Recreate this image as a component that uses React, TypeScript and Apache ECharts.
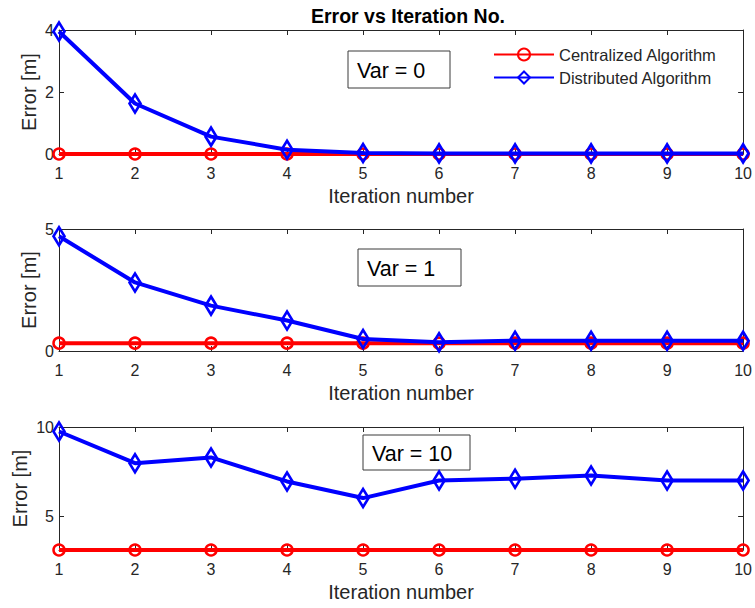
import React, { useEffect, useRef } from 'react';
import * as echarts from 'echarts';

const iterations = [1, 2, 3, 4, 5, 6, 7, 8, 9, 10];
const centralizedVar0 = [0, 0, 0, 0, 0, 0, 0, 0, 0, 0];
const distributedVar0 = [3.95, 1.63, 0.56, 0.14, 0.03, 0.02, 0.02, 0.02, 0.02, 0.02];
const centralizedVar1 = [0.32, 0.32, 0.32, 0.32, 0.32, 0.32, 0.32, 0.32, 0.32, 0.32];
const distributedVar1 = [4.7, 2.81, 1.86, 1.25, 0.49, 0.36, 0.42, 0.42, 0.42, 0.42];
const centralizedVar10 = [3.13, 3.13, 3.13, 3.13, 3.13, 3.13, 3.13, 3.13, 3.13, 3.13];
const distributedVar10 = [9.75, 7.98, 8.3, 6.96, 6.03, 7.01, 7.11, 7.29, 7.01, 7.01];

const panelLabels = ['Var = 0', 'Var = 1', 'Var = 10'];
const yTickValues = [[0, 2, 4], [0, 5], [5, 10]];
const xTickValues = [1, 2, 3, 4, 5, 6, 7, 8, 9, 10];
const seriesNames = ['Centralized Algorithm', 'Distributed Algorithm'];
const titleText = 'Error vs Iteration No.';
const xAxisName = 'Iteration number';
const yAxisName = 'Error [m]';

const centralizedSets = [centralizedVar0, centralizedVar1, centralizedVar10];
const distributedSets = [distributedVar0, distributedVar1, distributedVar10];

const FONT = '"Liberation Sans", Arial, Helvetica, sans-serif';
const AXIS_COLOR = '#262626';

export default function App() {
  const ref = useRef<HTMLDivElement>(null);

  useEffect(() => {
    if (!ref.current) return;
    const chart = echarts.init(ref.current, undefined, { renderer: 'svg' });

    const gridTops = [30, 229, 427];
    const gridHeights = [124, 122, 123];
    const yNameGaps = [20, 20, 29];
    const yRanges = [
      [0, 4],
      [0, 5],
      [3.13, 10],
    ];

    const grids = gridTops.map((top, i) => ({
      left: 59,
      top,
      width: 685,
      height: gridHeights[i],
      containLabel: false,
    }));

    const xAxes: any[] = [];
    const yAxes: any[] = [];
    for (let i = 0; i < 3; i++) {
      xAxes.push({
        type: 'value',
        gridIndex: i,
        min: 1,
        max: 10,
        interval: 1,
        position: 'bottom',
        name: xAxisName,
        nameLocation: 'middle',
        nameGap: 32,
        nameMoveOverlap: false,
        nameTextStyle: { fontSize: 20, color: AXIS_COLOR, fontFamily: FONT },
        axisLine: { show: true, onZero: false, lineStyle: { color: AXIS_COLOR, width: 1 } },
        axisTick: { show: true, inside: true, length: 5, lineStyle: { color: AXIS_COLOR } },
        axisLabel: { fontSize: 16, color: AXIS_COLOR, margin: 11, fontFamily: FONT, customValues: xTickValues },
        splitLine: { show: false },
      });
    }
    for (let i = 0; i < 3; i++) {
      xAxes.push({
        type: 'value',
        gridIndex: i,
        min: 1,
        max: 10,
        interval: 1,
        position: 'top',
        axisLine: { show: true, onZero: false, lineStyle: { color: AXIS_COLOR, width: 1 } },
        axisTick: { show: true, inside: true, length: 5, lineStyle: { color: AXIS_COLOR } },
        axisLabel: { show: false },
        splitLine: { show: false },
      });
    }
    for (let i = 0; i < 3; i++) {
      yAxes.push({
        type: 'value',
        gridIndex: i,
        min: yRanges[i][0],
        max: yRanges[i][1],
        position: 'left',
        name: yAxisName,
        nameLocation: 'middle',
        nameGap: yNameGaps[i],
        nameMoveOverlap: false,
        nameTextStyle: { fontSize: 20, color: AXIS_COLOR, fontFamily: FONT },
        axisLine: { show: true, onZero: false, lineStyle: { color: AXIS_COLOR, width: 1 } },
        axisTick: { show: true, inside: true, length: 5, lineStyle: { color: AXIS_COLOR }, customValues: yTickValues[i] },
        axisLabel: { fontSize: 16, color: AXIS_COLOR, margin: 5, fontFamily: FONT, customValues: yTickValues[i] },
        splitLine: { show: false },
      });
    }
    for (let i = 0; i < 3; i++) {
      yAxes.push({
        type: 'value',
        gridIndex: i,
        min: yRanges[i][0],
        max: yRanges[i][1],
        position: 'right',
        axisLine: { show: true, onZero: false, lineStyle: { color: AXIS_COLOR, width: 1 } },
        axisTick: { show: true, inside: true, length: 5, lineStyle: { color: AXIS_COLOR }, customValues: yTickValues[i] },
        axisLabel: { show: false, customValues: yTickValues[i] },
        splitLine: { show: false },
      });
    }

    const series: any[] = [];
    for (let i = 0; i < 3; i++) {
      series.push({
        name: seriesNames[0],
        type: 'line',
        xAxisIndex: i,
        yAxisIndex: i,
        data: iterations.map((x, k) => [x, centralizedSets[i][k]]),
        symbol: 'circle',
        symbolSize: 11,
        lineStyle: { color: '#ff0000', width: 4 },
        itemStyle: { color: 'transparent', borderColor: '#ff0000', borderWidth: 2.5 },
        z: 2,
      });
      series.push({
        name: seriesNames[1],
        type: 'line',
        xAxisIndex: i,
        yAxisIndex: i,
        data: iterations.map((x, k) => [x, distributedSets[i][k]]),
        symbol: 'diamond',
        symbolSize: [11, 18],
        lineStyle: { color: '#0000ff', width: 4 },
        itemStyle: { color: 'transparent', borderColor: '#0000ff', borderWidth: 2.8 },
        z: 3,
      });
    }

    const boxes = [
      { x: 348, y: 51, w: 102, h: 37 },
      { x: 358, y: 249, w: 103, h: 37 },
      { x: 363, y: 435, w: 107, h: 35 },
    ];

    chart.setOption({
      animation: false,
      backgroundColor: '#ffffff',
      title: {
        text: titleText,
        left: 403,
        top: 1,
        textAlign: 'center',
        textStyle: { fontSize: 19.5, fontWeight: 'bold', color: '#000', fontFamily: FONT },
      },
      legend: {
        data: seriesNames,
        orient: 'vertical',
        left: 493,
        top: 46,
        padding: 0,
        itemWidth: 60,
        itemHeight: 15,
        itemGap: 6,
        textStyle: { fontSize: 16.5, color: AXIS_COLOR, fontFamily: FONT },
      },
      grid: grids,
      xAxis: xAxes,
      yAxis: yAxes,
      series,
      graphic: boxes.map((b, i) => ({
        type: 'group',
        x: b.x,
        y: b.y,
        z: 100,
        children: [
          {
            type: 'rect',
            shape: { x: 0, y: 0, width: b.w, height: b.h },
            style: { fill: '#ffffff', stroke: '#3a3a3a', lineWidth: 1 },
          },
          {
            type: 'text',
            x: 9,
            y: b.h / 2 + 1,
            style: {
              text: panelLabels[i],
              fontSize: 21.5,
              fill: '#000',
              fontFamily: FONT,
              verticalAlign: 'middle',
              textAlign: 'left',
            },
          },
        ],
      })),
    });

    return () => chart.dispose();
  }, []);

  return (
    <div
      ref={ref}
      style={{ position: 'absolute', left: 0, top: 0, width: 755, height: 608, background: '#fff' }}
    />
  );
}
